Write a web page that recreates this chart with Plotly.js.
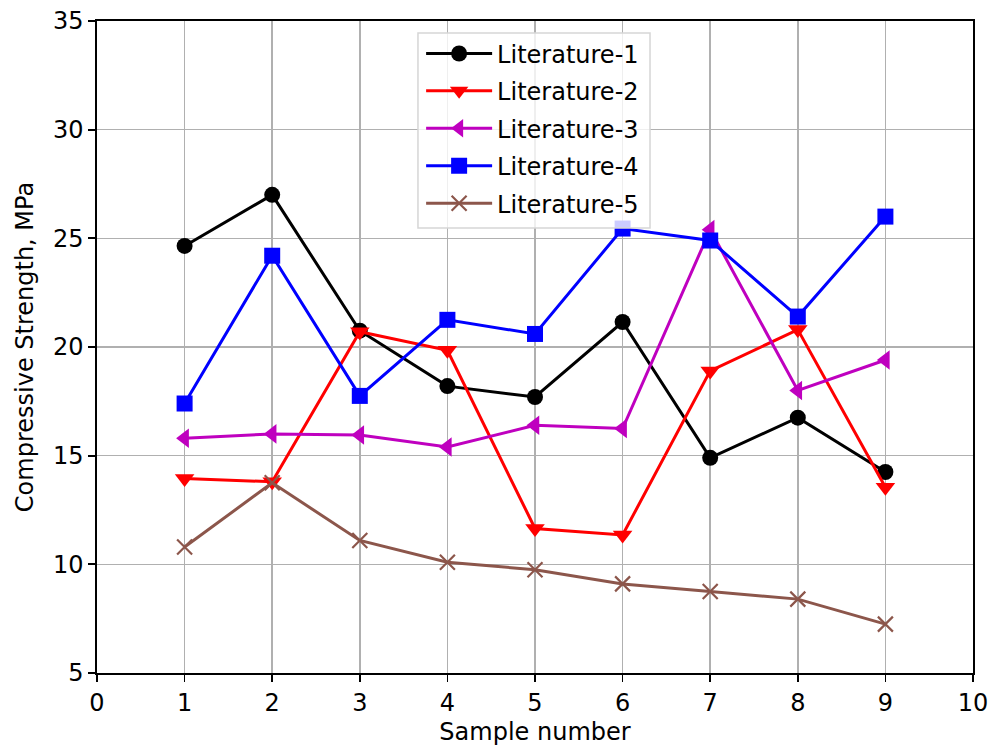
<!DOCTYPE html>
<html>
<head>
<meta charset="utf-8">
<script src="https://cdn.plot.ly/plotly-3.0.1.min.js"></script>
<style>html,body{margin:0;padding:0;background:#fff;}#chart{width:993px;height:749px;}</style>
</head>
<body>
<div id="chart"></div>
<script>
const samples = [1, 2, 3, 4, 5, 6, 7, 8, 9];
const lit1 = [24.65, 27.0, 20.75, 18.2, 17.7, 21.15, 14.9, 16.75, 14.25];
const lit2 = [13.95, 13.8, 20.7, 19.85, 11.65, 11.35, 18.9, 20.8, 13.55];
const lit3 = [15.8, 16.0, 15.95, 15.4, 16.4, 16.25, 25.4, 18.0, 19.4];
const lit4 = [17.4, 24.2, 17.75, 21.25, 20.6, 25.45, 24.9, 21.4, 26.0];
const lit5 = [10.8, 13.75, 11.1, 10.1, 9.75, 9.1, 8.75, 8.4, 7.25];
const names = ['Literature-1', 'Literature-2', 'Literature-3', 'Literature-4', 'Literature-5'];
const xTicks = [0, 1, 2, 3, 4, 5, 6, 7, 8, 9, 10];
const yTicks = [5, 10, 15, 20, 25, 30, 35];

const FONT = 'DejaVu Sans, sans-serif';
const FS = 24;

const series = [lit1, lit2, lit3, lit4, lit5];
const colors = ['#000000', '#ff0000', '#bf00bf', '#0000ff', '#8c564b'];
const symbols = ['circle', 'triangle-down', 'triangle-left', 'square', 'x-thin'];
const sizes = [16, 17, 17, 16, 15];
const legendKeys = ['legend', 'legend2', 'legend3', 'legend4', 'legend5'];
const legendY = [0.9495, 0.8925, 0.835, 0.7775, 0.72];

const traces = series.map((ys, i) => ({
  x: samples, y: ys, type: 'scatter', mode: 'lines+markers', name: names[i],
  legend: legendKeys[i],
  line: {color: colors[i], width: 3},
  marker: {symbol: symbols[i], size: sizes[i], color: colors[i],
           line: {color: colors[i], width: symbols[i] === 'x-thin' ? 2.2 : 0}}
}));

const layout = {
  width: 993, height: 749,
  margin: {l: 97, r: 20, t: 21, b: 76},
  paper_bgcolor: '#ffffff', plot_bgcolor: '#ffffff',
  font: {family: FONT, size: FS, color: '#000000'},
  showlegend: true,
  xaxis: {
    range: [0, 10], tickvals: xTicks, ticktext: xTicks.map(String),
    showgrid: true, gridcolor: '#b0b0b0', gridwidth: 1.6,
    showline: true, mirror: true, linecolor: '#000000', linewidth: 1.7,
    ticks: 'outside', ticklen: 7, tickwidth: 1.7, tickcolor: '#000000',
    zeroline: false, tickfont: {family: FONT, size: FS},
    title: {text: 'Sample number', font: {family: FONT, size: FS}, standoff: 8}
  },
  yaxis: {
    range: [5, 35], tickvals: yTicks, ticktext: yTicks.map(String),
    showgrid: true, gridcolor: '#b0b0b0', gridwidth: 1.6,
    showline: true, mirror: true, linecolor: '#000000', linewidth: 1.7,
    ticks: 'outside', ticklen: 7, tickwidth: 1.7, tickcolor: '#000000',
    zeroline: false, tickfont: {family: FONT, size: FS},
    title: {text: 'Compressive Strength, MPa', font: {family: FONT, size: FS}, standoff: 12}
  },
  shapes: [{
    type: 'rect', xref: 'paper', yref: 'paper', layer: 'above',
    x0: 0.3664, x1: 0.6313, y0: 0.6825, y1: 0.9816,
    fillcolor: 'rgba(255,255,255,0.8)', line: {color: '#d6d6d6', width: 1.5}
  }]
};
legendKeys.forEach((k, i) => {
  layout[k] = {
    x: 0.37, xanchor: 'left', y: legendY[i], yanchor: 'middle',
    bgcolor: 'rgba(0,0,0,0)', borderwidth: 0,
    font: {family: FONT, size: FS, color: '#000000'},
    itemwidth: 66
  };
});

Plotly.newPlot('chart', traces, layout, {displayModeBar: false, staticPlot: true});
</script>
</body>
</html>
